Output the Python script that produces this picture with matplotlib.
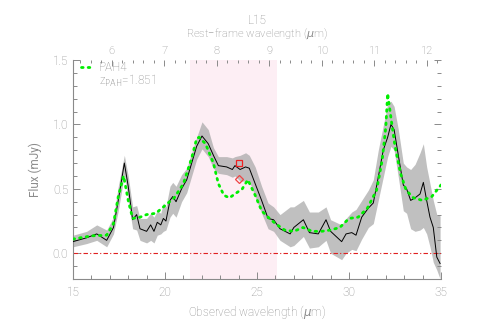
import numpy as np
import matplotlib
matplotlib.use("Agg")
import matplotlib.pyplot as plt
from matplotlib.ticker import MultipleLocator

plt.rcParams['font.family'] = ['Roboto', 'DejaVu Sans']
plt.rcParams['font.weight'] = 'light'

z_pah = 1.851

# observed spectrum (black line) with 1-sigma band
obs_wave = [15.0, 15.74, 16.29, 16.83, 17.2, 17.46, 17.79, 18.0, 18.24, 18.46,
            18.64, 19.0, 19.22, 19.4, 19.58, 19.77, 19.91, 20.05, 20.27, 20.42,
            20.6, 20.9, 21.18, 21.45, 21.72, 22.01, 22.35, 22.63, 22.9, 23.35,
            23.66, 23.8, 24.08, 24.38, 24.58, 24.9, 25.25, 25.6, 25.9, 26.25,
            26.8, 27.0, 27.52, 27.85, 28.33, 28.75, 29.0, 29.6, 29.84, 30.15,
            30.38, 30.69, 31.05, 31.32, 31.59, 31.86, 32.1, 32.28, 32.45, 32.68,
            32.95, 33.13, 33.35, 33.59, 33.86, 34.04, 34.22, 34.4, 34.58, 34.77,
            34.95]
obs_flux = [0.09, 0.12, 0.15, 0.10, 0.20, 0.41, 0.70, 0.52, 0.26, 0.30,
            0.19, 0.17, 0.22, 0.17, 0.24, 0.22, 0.27, 0.25, 0.41, 0.44,
            0.40, 0.50, 0.57, 0.70, 0.83, 0.91, 0.85, 0.76, 0.68, 0.67,
            0.65, 0.68, 0.65, 0.67, 0.66, 0.54, 0.41, 0.27, 0.26, 0.19,
            0.15, 0.20, 0.26, 0.16, 0.15, 0.26, 0.17, 0.09, 0.15, 0.16,
            0.14, 0.28, 0.35, 0.39, 0.59, 0.80, 0.90, 1.00, 0.96, 0.76,
            0.53, 0.50, 0.41, 0.43, 0.46, 0.55, 0.41, 0.28, 0.20, -0.03,
            -0.08]
obs_upper = [0.14, 0.17, 0.22, 0.18, 0.28, 0.52, 0.76, 0.60, 0.36, 0.37,
             0.27, 0.27, 0.31, 0.28, 0.33, 0.31, 0.39, 0.36, 0.52, 0.55,
             0.52, 0.61, 0.66, 0.78, 0.90, 1.02, 0.96, 0.82, 0.75, 0.75,
             0.74, 0.75, 0.76, 0.78, 0.76, 0.67, 0.52, 0.39, 0.36, 0.30,
             0.36, 0.36, 0.41, 0.32, 0.32, 0.36, 0.26, 0.22, 0.27, 0.32,
             0.34, 0.41, 0.49, 0.57, 0.80, 0.99, 1.16, 1.18, 1.14, 0.96,
             0.70, 0.67, 0.65, 0.69, 0.78, 0.85, 0.67, 0.54, 0.41, 0.30,
             0.29]
obs_lower = [0.05, 0.075, 0.10, 0.05, 0.15, 0.33, 0.61, 0.41, 0.19, 0.18,
             0.10, 0.08, 0.10, 0.08, 0.14, 0.15, 0.17, 0.18, 0.28, 0.31,
             0.28, 0.40, 0.47, 0.60, 0.73, 0.81, 0.75, 0.66, 0.62, 0.61,
             0.59, 0.60, 0.56, 0.56, 0.56, 0.44, 0.31, 0.19, 0.17, 0.10,
             0.05, 0.06, 0.13, 0.04, 0.05, 0.10, 0.00, -0.05, 0.00, 0.03,
             0.02, 0.11, 0.20, 0.23, 0.41, 0.59, 0.75, 0.83, 0.80, 0.59,
             0.33, 0.31, 0.19, 0.17, 0.18, 0.20, 0.15, 0.05, -0.07, -0.13,
             -0.20]

# PAH template (green dotted)
pah_wave = [15.0, 16.0, 16.83, 17.2, 17.46, 17.75, 18.0, 18.24, 18.64, 19.0,
            19.5, 20.0, 20.5, 21.0, 21.45, 21.72, 21.85, 22.2, 22.63, 22.9,
            23.2, 23.5, 23.8, 24.2, 24.5, 24.9, 25.25, 25.6, 26.0, 26.5,
            27.0, 27.5, 28.0, 28.5, 29.0, 29.5, 30.0, 30.5, 31.0, 31.5,
            31.8, 32.0, 32.1, 32.3, 32.5, 32.8, 33.1, 33.5, 34.0, 34.5,
            35.0]
pah_flux = [0.11, 0.135, 0.14, 0.23, 0.44, 0.60, 0.41, 0.27, 0.28, 0.30,
            0.31, 0.37, 0.43, 0.54, 0.74, 0.89, 0.90, 0.85, 0.70, 0.54,
            0.45, 0.43, 0.46, 0.50, 0.57, 0.45, 0.33, 0.28, 0.23, 0.18,
            0.17, 0.20, 0.17, 0.17, 0.18, 0.20, 0.27, 0.28, 0.35, 0.49,
            0.72, 0.98, 1.24, 1.03, 0.83, 0.62, 0.49, 0.43, 0.41, 0.44,
            0.53]

# photometric points
phot_wave = [24.0]
phot_square = [0.70]
phot_diamond = [0.58]

# shaded rest-frame band (micron)
band_rest = (7.5, 9.15)

grey = '#8a8a8a'
txt = '#8c8c8c'

fig = plt.figure(figsize=(4.91, 3.27), dpi=100)
ax = fig.add_axes([0.1487, 0.1468, 0.7495, 0.6697])

ax.axvspan(band_rest[0] * (1 + z_pah), band_rest[1] * (1 + z_pah),
           color='#fdeef4', zorder=0, lw=0)
ax.fill_between(obs_wave, obs_lower, obs_upper, color='#a8a8a8', alpha=0.72,
                lw=0, zorder=1)
ax.plot(obs_wave, obs_flux, color='black', lw=0.7, zorder=3)
ax.plot(pah_wave, pah_flux, color='#00ee00', lw=2.0, ls=(0, (0.6, 1.8)),
        dash_capstyle='round', zorder=4)
ax.axhline(0, color='#e02020', lw=0.8, ls=(0, (4, 2, 1, 2)), zorder=2)
ax.plot(phot_wave, phot_square, marker='s', ms=5, mfc='none', mec='#ee2222',
        mew=0.9, ls='none', zorder=5)
ax.plot(phot_wave, phot_diamond, marker='D', ms=4.5, mfc='none', mec='#ee4444',
        mew=0.9, ls='none', zorder=5)

ax.set_xlim(15, 35)
ax.set_ylim(-0.2, 1.5)
ax.xaxis.set_major_locator(MultipleLocator(5))
ax.xaxis.set_minor_locator(MultipleLocator(1))
ax.yaxis.set_major_locator(MultipleLocator(0.5))
ax.yaxis.set_minor_locator(MultipleLocator(0.1))
ax.yaxis.set_major_formatter(plt.FuncFormatter(lambda v, p: f'{v:.1f}'))

for s in ['top', 'right']:
    ax.spines[s].set_visible(False)
for s in ['left', 'bottom']:
    ax.spines[s].set_color(grey)
    ax.spines[s].set_linewidth(0.8)

ax.tick_params(which='both', direction='in', colors=grey, labelcolor=txt,
               labelsize=8.5, width=0.7, bottom=True, left=True, right=True,
               top=False)
ax.tick_params(which='major', length=5)
ax.tick_params(which='minor', length=3)
ax.tick_params(axis='x', pad=5)

top = ax.secondary_xaxis('top', functions=(lambda x: x / (1 + z_pah),
                                           lambda x: x * (1 + z_pah)))
top.spines['top'].set_visible(False)
top.xaxis.set_major_locator(MultipleLocator(1))
top.xaxis.set_minor_locator(MultipleLocator(0.2))
top.tick_params(which='both', direction='in', colors=grey,
                labelcolor=txt, labelsize=8, width=0.7)
top.tick_params(which='major', length=4, pad=3)
top.tick_params(which='minor', length=2.5)

cx = 0.5 * (0.1487 + 0.898)
fig.text(cx, 1 - 21 / 327, 'L15', ha='center', va='center', color=txt,
         fontsize=8.5)
fig.text(cx, 1 - 34 / 327, 'Rest\u2212frame wavelength ($\\mu$m)',
         ha='center', va='center', color=txt, fontsize=8)
fig.text(cx, 1 - 312 / 327, 'Observed wavelength ($\\mu$m)', ha='center',
         va='center', color=txt, fontsize=8.5)
ax.set_ylabel('Flux (mJy)', color=txt, fontsize=8.5, labelpad=8)

# legend
ax.plot([15.45, 15.95], [1.445, 1.445], color='#00ee00', lw=2.0,
        ls=(0, (0.6, 1.8)), dash_capstyle='round', zorder=6)
ax.text(16.4, 1.445, 'PAH4', color=txt, fontsize=8.5, va='center')
ax.text(16.4, 1.34, 'z$_{\\rm PAH}$=1.851', color=txt, fontsize=8.5,
        va='center')

fig.savefig('out.png', dpi=100)
